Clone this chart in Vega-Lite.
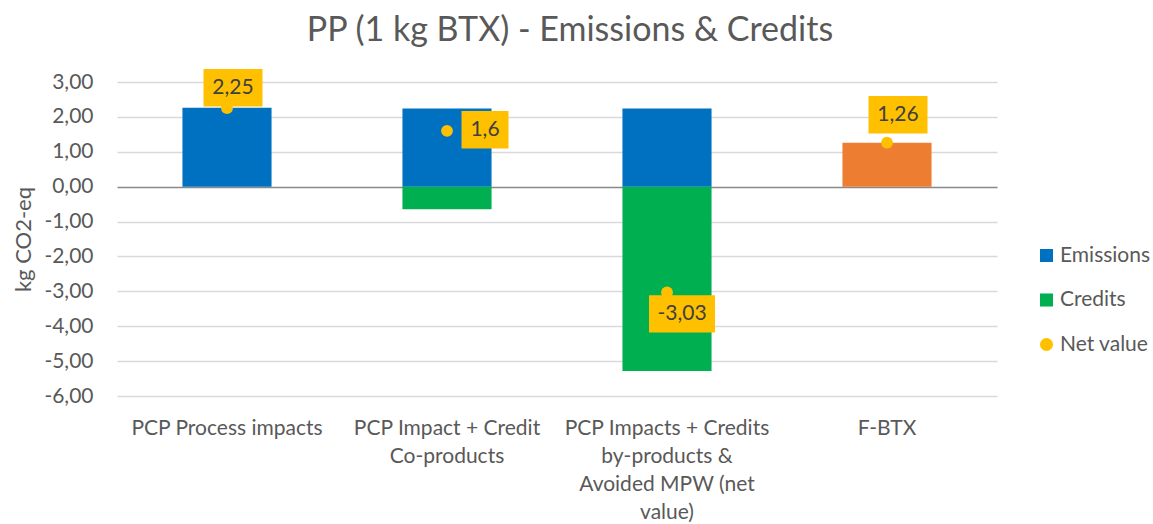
{
  "$schema": "https://vega.github.io/schema/vega-lite/v6.json",
  "width": 880,
  "height": 314,
  "autosize": "none",
  "padding": {"left": 117, "top": 82, "right": 156, "bottom": 128},
  "background": "white",
  "title": {
    "text": "PP (1 kg BTX) - Emissions & Credits",
    "anchor": "middle",
    "frame": "group",
    "dx": 13,
    "offset": 21,
    "font": "Lato",
    "fontSize": 34,
    "fontWeight": "normal",
    "color": "#595959"
  },
  "config": {
    "locale": {
      "number": {"decimal": ",", "thousands": ".", "grouping": [3], "currency": ["", " €"], "minus": "-"}
    },
    "view": {"stroke": null},
    "font": "Lato"
  },
  "datasets": {
    "bars": [
      {"category": "PCP Process impacts", "series": "Emissions", "value": 2.26},
      {"category": "PCP Impact + Credit Co-products", "series": "Emissions", "value": 2.24},
      {"category": "PCP Impact + Credit Co-products", "series": "Credits", "value": -0.65},
      {"category": "PCP Impacts + Credits by-products & Avoided MPW (net value)", "series": "Emissions", "value": 2.24},
      {"category": "PCP Impacts + Credits by-products & Avoided MPW (net value)", "series": "Credits", "value": -5.28},
      {"category": "F-BTX", "series": "F-BTX", "value": 1.26}
    ],
    "net": [
      {"category": "PCP Process impacts", "series": "Net value", "value": 2.25},
      {"category": "PCP Impact + Credit Co-products", "series": "Net value", "value": 1.6},
      {"category": "PCP Impacts + Credits by-products & Avoided MPW (net value)", "series": "Net value", "value": -3.03},
      {"category": "F-BTX", "series": "Net value", "value": 1.26}
    ]
  },
  "encoding": {
    "x": {
      "field": "category",
      "type": "nominal",
      "sort": null,
      "scale": {
        "domain": ["PCP Process impacts", "PCP Impact + Credit Co-products", "PCP Impacts + Credits by-products & Avoided MPW (net value)", "F-BTX"],
        "paddingInner": 0.595,
        "paddingOuter": 0.2975
      },
      "axis": {
        "title": null,
        "labelAngle": 0,
        "ticks": false,
        "domain": false,
        "labelFont": "Lato",
        "labelFontSize": 21,
        "labelColor": "#595959",
        "labelPadding": 21,
        "labelLineHeight": 28,
        "labelLimit": 400,
        "labelExpr": "datum.value == 'PCP Impact + Credit Co-products' ? ['PCP Impact + Credit', 'Co-products'] : datum.value == 'PCP Impacts + Credits by-products & Avoided MPW (net value)' ? ['PCP Impacts + Credits', 'by-products &', 'Avoided MPW (net', 'value)'] : datum.value"
      }
    },
    "y": {
      "field": "value",
      "type": "quantitative",
      "scale": {"domain": [-6, 3], "nice": false, "zero": false},
      "axis": {
        "title": "kg CO2-eq",
        "titleFont": "Lato",
        "titleFontSize": 22,
        "titleFontWeight": "normal",
        "titleColor": "#595959",
        "titlePadding": 8,
        "values": [-6, -5, -4, -3, -2, -1, 0, 1, 2, 3],
        "labelOverlap": false,
        "format": ".2f",
        "ticks": false,
        "domain": false,
        "labelFont": "Lato",
        "labelFontSize": 21,
        "labelColor": "#595959",
        "labelPadding": 24,
        "grid": true,
        "gridColor": {"condition": {"test": "datum.value === 0", "value": "#898989"}, "value": "#D9D9D9"},
        "gridWidth": {"condition": {"test": "datum.value === 0", "value": 1.6}, "value": 1.3}
      }
    }
  },
  "layer": [
    {
      "data": {"name": "bars"},
      "mark": {"type": "bar"},
      "encoding": {
        "color": {
          "field": "series",
          "type": "nominal",
          "scale": {
            "domain": ["Emissions", "Credits", "Net value", "F-BTX"],
            "range": ["#0070C0", "#00B050", "#FFC000", "#ED7D31"]
          },
          "legend": {
            "title": null,
            "values": ["Emissions", "Credits", "Net value"],
            "orient": "none",
            "legendX": 919,
            "legendY": 163,
            "padding": 0,
            "labelFont": "Lato",
            "labelFontSize": 21,
            "labelColor": "#595959",
            "labelOffset": 3,
            "symbolSize": 170,
            "symbolType": "square",
            "symbolStrokeWidth": 0,
            "rowPadding": 22.5,
            "encode": {
              "symbols": {
                "update": {
                  "shape": {"signal": "datum.value === 'Net value' ? 'circle' : 'square'"}
                }
              }
            }
          }
        }
      }
    },
    {
      "data": {"name": "net"},
      "transform": [{"filter": "datum.category == 'PCP Process impacts'"}],
      "mark": {"type": "point", "filled": true, "opacity": 1, "color": "#FFC000", "shape": "M-1,-0.636L1,-0.636L1,0.636L-1,0.636Z", "size": 3481, "xOffset": 6, "yOffset": -20.5}
    },
    {
      "data": {"name": "net"},
      "transform": [{"filter": "datum.category == 'PCP Impact + Credit Co-products'"}],
      "mark": {"type": "point", "filled": true, "opacity": 1, "color": "#FFC000", "shape": "M-1,-0.798L1,-0.798L1,0.798L-1,0.798Z", "size": 2209, "xOffset": 38, "yOffset": -1}
    },
    {
      "data": {"name": "net"},
      "transform": [{"filter": "datum.category == 'PCP Impacts + Credits by-products & Avoided MPW (net value)'"}],
      "mark": {"type": "point", "filled": true, "opacity": 1, "color": "#FFC000", "shape": "M-1,-0.568L1,-0.568L1,0.568L-1,0.568Z", "size": 4356, "xOffset": 15, "yOffset": 21.5}
    },
    {
      "data": {"name": "net"},
      "transform": [{"filter": "datum.category == 'F-BTX'"}],
      "mark": {"type": "point", "filled": true, "opacity": 1, "color": "#FFC000", "shape": "M-1,-0.636L1,-0.636L1,0.636L-1,0.636Z", "size": 3481, "xOffset": 11, "yOffset": -28}
    },
    {
      "data": {"name": "net"},
      "mark": {"type": "point", "filled": true, "opacity": 1, "size": 140, "shape": "circle"},
      "encoding": {
        "color": {"field": "series", "type": "nominal"}
      }
    },
    {
      "data": {"name": "net"},
      "transform": [{"filter": "datum.category == 'PCP Process impacts'"}],
      "mark": {"type": "text", "font": "Lato", "fontSize": 21, "color": "#404040", "baseline": "middle", "align": "center", "dx": 6, "dy": -20.5},
      "encoding": {"text": {"field": "value", "type": "quantitative", "format": "~g"}}
    },
    {
      "data": {"name": "net"},
      "transform": [{"filter": "datum.category == 'PCP Impact + Credit Co-products'"}],
      "mark": {"type": "text", "font": "Lato", "fontSize": 21, "color": "#404040", "baseline": "middle", "align": "center", "dx": 38, "dy": -1},
      "encoding": {"text": {"field": "value", "type": "quantitative", "format": "~g"}}
    },
    {
      "data": {"name": "net"},
      "transform": [{"filter": "datum.category == 'PCP Impacts + Credits by-products & Avoided MPW (net value)'"}],
      "mark": {"type": "text", "font": "Lato", "fontSize": 21, "color": "#404040", "baseline": "middle", "align": "center", "dx": 15, "dy": 21.5},
      "encoding": {"text": {"field": "value", "type": "quantitative", "format": "~g"}}
    },
    {
      "data": {"name": "net"},
      "transform": [{"filter": "datum.category == 'F-BTX'"}],
      "mark": {"type": "text", "font": "Lato", "fontSize": 21, "color": "#404040", "baseline": "middle", "align": "center", "dx": 11, "dy": -28},
      "encoding": {"text": {"field": "value", "type": "quantitative", "format": "~g"}}
    }
  ]
}
